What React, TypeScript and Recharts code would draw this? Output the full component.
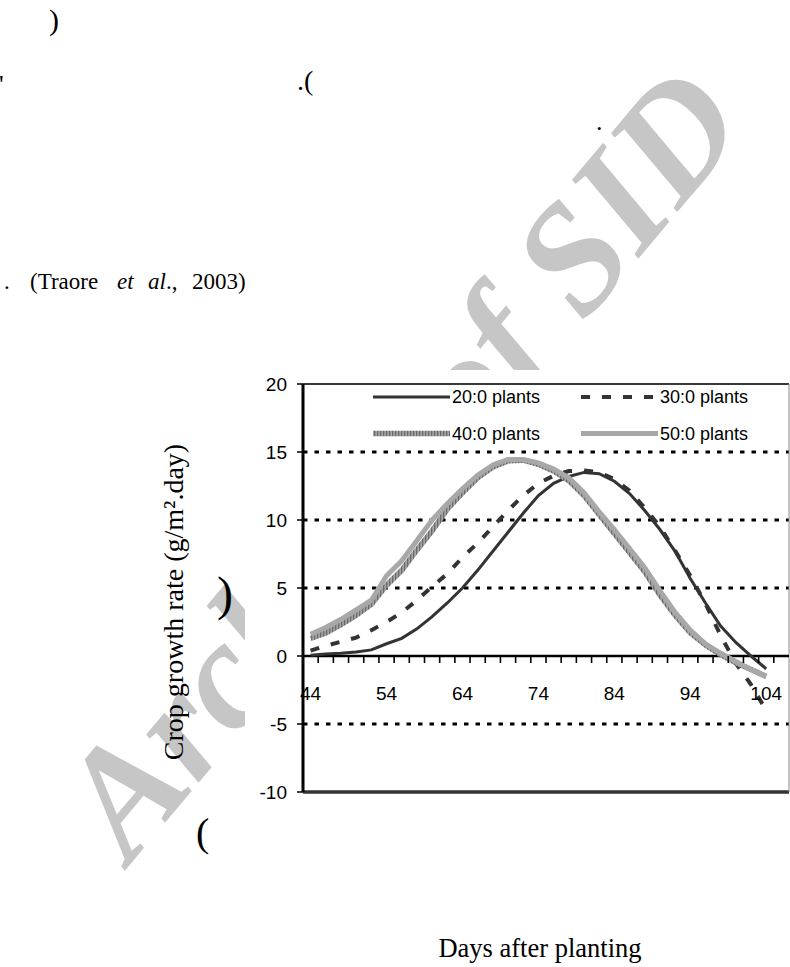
import React from "react";
import { LineChart, Line, XAxis, YAxis, ReferenceLine } from "recharts";

// crop growth rate (g/m².day) every second day after planting
const DAYS = [44, 46, 48, 50, 52, 54, 56, 58, 60, 62, 64, 66, 68, 70, 72, 74, 76, 78, 80, 82, 84, 86, 88, 90, 92, 94, 96, 98, 100, 102, 104];

const CGR_20 = [0.05, 0.15, 0.2, 0.3, 0.45, 0.9, 1.3, 2.0, 2.9, 3.9, 5.0, 6.3, 7.7, 9.1, 10.5, 11.8, 12.7, 13.2, 13.5, 13.4, 12.85, 11.95, 10.7, 9.3, 7.7, 5.7, 3.9, 2.2, 1.0, 0.0, -0.95];
const CGR_30 = [0.4, 0.75, 1.05, 1.35, 1.9, 2.5, 3.2, 4.1, 5.1, 6.05, 7.25, 8.3, 9.5, 10.7, 11.8, 12.7, 13.25, 13.6, 13.65, 13.5, 13.0, 12.15, 10.9, 9.5, 7.75, 5.9, 3.85, 1.5, -0.55, -2.1, -4.0];
const CGR_40 = [1.3, 1.7, 2.3, 3.0, 3.8, 5.2, 6.3, 7.8, 9.2, 10.8, 12.0, 13.1, 13.9, 14.35, 14.4, 14.1, 13.6, 12.9, 11.8, 10.4, 9.0, 7.6, 6.2, 4.5, 3.0, 1.7, 0.8, 0.1, -0.5, -1.0, -1.5];
const CGR_50 = [1.6, 2.1, 2.7, 3.4, 4.1, 5.9, 7.0, 8.5, 10.0, 11.2, 12.3, 13.3, 14.05, 14.45, 14.45, 14.2, 13.75, 13.1, 12.0, 10.6, 9.3, 7.9, 6.5, 4.8, 3.2, 1.9, 0.9, 0.2, -0.4, -1.0, -1.5];

const SERIES_NAMES = ["20:0 plants", "30:0 plants", "40:0 plants", "50:0 plants"];

const X_LABELS = [44, 54, 64, 74, 84, 94, 104];
const Y_TICKS = [-10, -5, 0, 5, 10, 15, 20];
const GRID_VALUES = [-5, 5, 10, 15];

// small tick marks between the two-day categories
const MINOR_TICKS = Array.from({ length: 31 }, (_, i) => 45 + 2 * i);
const AXIS_TICKS = [...X_LABELS, ...MINOR_TICKS].sort((a, b) => a - b);

const rows = DAYS.map((day, i) => ({
  day,
  p20: CGR_20[i],
  p30: CGR_30[i],
  p40: CGR_40[i],
  p50: CGR_50[i],
}));

const SANS = "'Liberation Sans', Arial, sans-serif";
const SERIF = "'Liberation Serif', 'Times New Roman', serif";

const CHART_LEFT = 245;
const CHART_TOP = 370;
const CHART_W = 545;
const CHART_H = 440;
const MARGIN = { top: 14, right: 1, bottom: 17, left: 0 };
const X_AXIS_H = 1;
const Y_MIN = -10;
const Y_MAX = 20;
const PLOT_H = CHART_H - MARGIN.top - MARGIN.bottom - X_AXIS_H;
// the day axis sits on y = 0, not on the bottom of the plot
const ZERO_LIFT = (PLOT_H * (0 - Y_MIN)) / (Y_MAX - Y_MIN);

const LINE_STYLES: Record<string, any> = {
  p20: { stroke: "#333", strokeWidth: 3 },
  p30: { stroke: "#333", strokeWidth: 4, strokeDasharray: "9 12" },
  p40: { stroke: "url(#hatch40)", strokeWidth: 5.5 },
  p50: { stroke: "#a8a8a8", strokeWidth: 5 },
};
const KEYS = ["p20", "p30", "p40", "p50"];

const DayTick = (props: any) => {
  const { x, y, payload } = props;
  const day = payload.value as number;
  const zeroY = y - ZERO_LIFT;
  if (X_LABELS.includes(day)) {
    return (
      <text x={x} y={zeroY + 44} textAnchor="middle" fontSize={19} fontFamily={SANS} fill="#000">
        {day}
      </text>
    );
  }
  return <line x1={x} x2={x} y1={zeroY} y2={zeroY + 7} stroke="#000" strokeWidth={1.6} />;
};

const HatchPattern = ({ id }: { id: string }) => (
  <pattern id={id} patternUnits="userSpaceOnUse" width="3" height="3">
    <rect width="3" height="3" fill="#a4a4a4" />
    <rect width="1.3" height="3" fill="#6a6a6a" />
  </pattern>
);

const Legend = () => {
  const cols = [128, 336];
  const rowsY = [27, 63.5];
  return (
    <svg
      width={CHART_W}
      height={90}
      style={{ position: "absolute", left: CHART_LEFT, top: CHART_TOP, pointerEvents: "none" }}
    >
      <defs>
        <HatchPattern id="hatch40legend" />
      </defs>
      {KEYS.map((key, i) => {
        const x = cols[i % 2];
        const y = rowsY[Math.floor(i / 2)];
        const style = { ...LINE_STYLES[key] };
        if (key === "p40") style.stroke = "url(#hatch40legend)";
        return (
          <g key={key}>
            <line x1={x} x2={x + 77} y1={y} y2={y} {...style} />
            <text x={x + 79} y={y + 6.4} fontSize={18} fontFamily={SANS} fill="#000">
              {SERIES_NAMES[i]}
            </text>
          </g>
        );
      })}
    </svg>
  );
};

const PageText = () => (
  <svg width={790} height={967} style={{ position: "absolute", left: 0, top: 0 }}>
    <text
      transform="translate(440,495) rotate(-50)"
      textAnchor="middle"
      fontSize={155}
      fontFamily={SERIF}
      fontStyle="italic"
      fontWeight="bold"
      fill="#c6c6c6"
    >
      Archive of SID
    </text>
    <g fontFamily={SERIF} fill="#000">
      <text x={49} y={30} fontSize={30}>)</text>
      <text x={-1} y={93} fontSize={26}>'</text>
      <text x={297} y={90} fontSize={28}>.(</text>
      <text x={596} y={130} fontSize={26}>.</text>
      <text x={4} y={289} fontSize={23}>.</text>
      <text y={289} fontSize={23}>
        <tspan x={30}>(Traore</tspan>
        <tspan x={117} fontStyle="italic">et</tspan>
        <tspan x={148} fontStyle="italic">al</tspan>
        <tspan>.,</tspan>
        <tspan x={192}>2003)</tspan>
      </text>
      <text x={217} y={610} fontSize={48}>)</text>
      <text x={196} y={846} fontSize={40}>(</text>
      <text transform="translate(183,602) rotate(-90)" textAnchor="middle" fontSize={28}>
        Crop growth rate (g/m².day)
      </text>
      <text x={540} y={957} textAnchor="middle" fontSize={26.5}>
        Days after planting
      </text>
    </g>
  </svg>
);

export default function App() {
  return (
    <div
      style={{
        position: "absolute",
        left: 0,
        top: 0,
        width: 790,
        height: 967,
        background: "#fff",
        overflow: "hidden",
      }}
    >
      <PageText />
      <div
        style={{
          position: "absolute",
          left: CHART_LEFT,
          top: CHART_TOP,
          width: CHART_W,
          height: CHART_H,
          background: "#fff",
        }}
      >
        <LineChart width={CHART_W} height={CHART_H} data={rows} margin={MARGIN}>
          <defs>
            <HatchPattern id="hatch40" />
          </defs>
          <XAxis
            dataKey="day"
            type="number"
            domain={[43, 107]}
            ticks={AXIS_TICKS}
            interval={0}
            tick={DayTick}
            tickLine={false}
            axisLine={false}
            tickSize={0}
            tickMargin={0}
            height={X_AXIS_H}
          />
          <YAxis
            type="number"
            domain={[Y_MIN, Y_MAX]}
            ticks={Y_TICKS}
            interval={0}
            width={58}
            tickSize={6}
            tickMargin={10}
            axisLine={{ stroke: "#000", strokeWidth: 3 }}
            tickLine={{ stroke: "#000", strokeWidth: 1.5 }}
            tick={{ fill: "#000", fontSize: 19, fontFamily: SANS }}
          />
          {GRID_VALUES.map((v) => (
            <ReferenceLine key={v} y={v} stroke="#000" strokeWidth={3} strokeDasharray="4.5 7" />
          ))}
          <ReferenceLine y={Y_MAX} stroke="#3a3a3a" strokeWidth={2} />
          <ReferenceLine y={Y_MIN} stroke="#333" strokeWidth={3.5} />
          <ReferenceLine x={107} stroke="#888" strokeWidth={1} />
          <ReferenceLine y={0} stroke="#000" strokeWidth={2.5} />
          {KEYS.map((key) => (
            <Line
              key={key}
              type="linear"
              dataKey={key}
              {...LINE_STYLES[key]}
              dot={false}
              activeDot={false}
              isAnimationActive={false}
            />
          ))}
        </LineChart>
      </div>
      <Legend />
    </div>
  );
}
